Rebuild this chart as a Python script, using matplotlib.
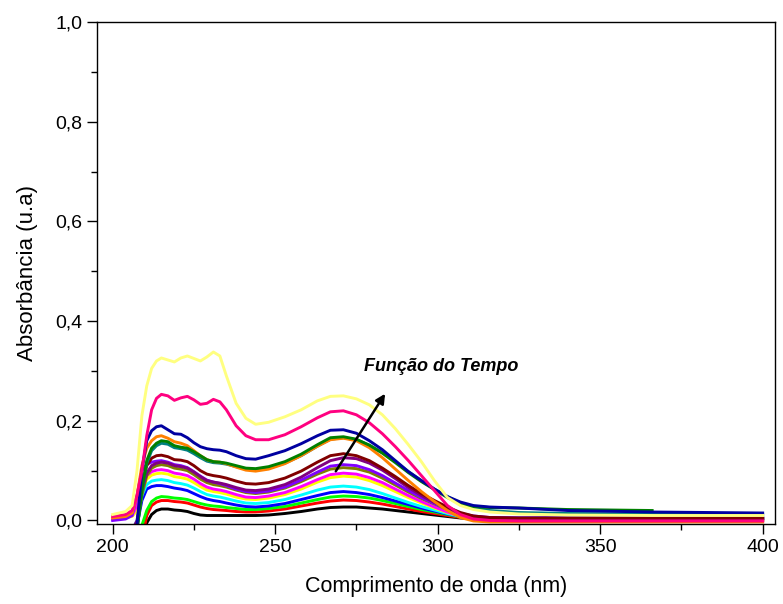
import numpy as np
import matplotlib
matplotlib.use('Agg')
import matplotlib.pyplot as plt
from matplotlib.ticker import MultipleLocator, FuncFormatter

plt.rcParams['font.family'] = ['Liberation Sans', 'DejaVu Sans']

wl = [200, 204, 206, 207.5, 209, 210.5, 212, 213.5, 215, 217, 219, 221, 223, 225, 227,
      229, 231, 233, 235, 238, 241, 244, 248, 253, 258, 263, 267, 271, 275, 279, 283,
      287, 291, 295, 299, 303, 307, 311, 316, 325, 340, 366, 400]

nan = np.nan

# absorbance curves, top (longest time) to bottom
light_yellow = [0.012, 0.018, 0.03, 0.10, 0.21, 0.27, 0.305, 0.32, 0.326, 0.322, 0.318, 0.326, 0.330, 0.325, 0.320,
                0.328, 0.338, 0.330, 0.290, 0.235, 0.205, 0.193, 0.197, 0.208, 0.222, 0.240, 0.249, 0.250, 0.244, 0.232, 0.212,
                0.184, 0.152, 0.118, 0.080, 0.046, 0.030, 0.022, 0.017, 0.013, 0.011, 0.010, 0.010]
pink = [0.008, 0.012, 0.02, 0.05, 0.10, 0.17, 0.222, 0.245, 0.253, 0.250, 0.241, 0.246, 0.249, 0.242, 0.233,
        0.235, 0.243, 0.238, 0.222, 0.190, 0.170, 0.162, 0.162, 0.172, 0.188, 0.206, 0.218, 0.220, 0.212, 0.196, 0.174,
        0.148, 0.120, 0.090, 0.060, 0.030, 0.012, 0.003, 0.0, -0.001, -0.001, -0.001, -0.001]
navy = [-0.04, -0.04, -0.04, -0.01, 0.10, 0.16, 0.18, 0.188, 0.190, 0.182, 0.174, 0.173, 0.166, 0.156, 0.148,
        0.144, 0.142, 0.141, 0.138, 0.130, 0.124, 0.123, 0.130, 0.140, 0.154, 0.170, 0.181, 0.182, 0.175, 0.160, 0.142,
        0.120, 0.098, 0.080, 0.063, 0.048, 0.037, 0.030, 0.027, 0.025, 0.020, 0.017, 0.015]
green = [-0.04, -0.04, -0.04, -0.02, 0.06, 0.12, 0.145, 0.155, 0.160, 0.158, 0.150, 0.147, 0.145, 0.138, 0.130,
         0.122, 0.118, 0.117, 0.115, 0.110, 0.105, 0.104, 0.108, 0.118, 0.133, 0.152, 0.166, 0.168, 0.163, 0.151, 0.135,
         0.116, 0.096, 0.078, 0.062, 0.046, 0.034, 0.028, 0.026, 0.025, 0.022, 0.020, nan]
teal = [-0.04, -0.04, -0.04, -0.02, 0.06, 0.115, 0.14, 0.15, 0.155, 0.153, 0.146, 0.144, 0.141, 0.134, 0.126,
        0.119, 0.116, 0.115, 0.113, 0.108, 0.103, 0.101, 0.105, 0.115, 0.130, 0.149, 0.163, 0.166, 0.162, 0.151, 0.136,
        0.118, 0.098, 0.080, 0.063, 0.048, 0.035, 0.026, 0.020, 0.016, 0.014, 0.013, 0.012]
orange = [0.005, 0.008, 0.015, 0.05, 0.11, 0.145, 0.16, 0.168, 0.170, 0.165, 0.158, 0.155, 0.150, 0.140, 0.130,
          0.122, 0.118, 0.117, 0.114, 0.107, 0.101, 0.099, 0.103, 0.114, 0.130, 0.149, 0.162, 0.165, 0.160, 0.146, 0.126,
          0.103, 0.080, 0.058, 0.038, 0.020, 0.006, -0.001, -0.003, -0.003, -0.003, -0.003, -0.003]
maroon = [-0.03, -0.03, -0.03, -0.01, 0.07, 0.11, 0.125, 0.13, 0.131, 0.128, 0.122, 0.121, 0.118, 0.110, 0.100,
          0.093, 0.090, 0.088, 0.085, 0.079, 0.074, 0.073, 0.076, 0.085, 0.099, 0.117, 0.130, 0.134, 0.130, 0.120, 0.105,
          0.088, 0.070, 0.054, 0.040, 0.027, 0.016, 0.009, 0.006, 0.005, 0.005, 0.005, 0.005]
purple = [-0.02, -0.02, -0.02, 0.0, 0.06, 0.095, 0.11, 0.115, 0.117, 0.115, 0.110, 0.108, 0.105, 0.097, 0.088,
          0.080, 0.077, 0.075, 0.072, 0.066, 0.061, 0.060, 0.063, 0.072, 0.087, 0.106, 0.120, 0.126, 0.124, 0.115, 0.101,
          0.084, 0.066, 0.050, 0.036, 0.024, 0.014, 0.008, 0.005, 0.004, 0.004, 0.004, 0.004]
violet = [0.0, 0.003, 0.01, 0.05, 0.10, 0.113, 0.117, 0.119, 0.120, 0.117, 0.112, 0.110, 0.106, 0.098, 0.089,
          0.081, 0.077, 0.074, 0.070, 0.063, 0.058, 0.056, 0.059, 0.067, 0.081, 0.097, 0.109, 0.112, 0.110, 0.102, 0.090,
          0.075, 0.060, 0.046, 0.034, 0.023, 0.014, 0.009, 0.006, 0.005, 0.005, 0.005, 0.005]
olive = [-0.03, -0.03, -0.03, -0.01, 0.05, 0.09, 0.105, 0.11, 0.112, 0.110, 0.105, 0.103, 0.100, 0.092, 0.083,
         0.076, 0.072, 0.070, 0.067, 0.061, 0.056, 0.054, 0.057, 0.065, 0.078, 0.093, 0.103, 0.106, 0.104, 0.097, 0.085,
         0.071, 0.057, 0.044, 0.033, 0.022, 0.013, 0.007, 0.004, 0.003, 0.003, 0.003, 0.003]
magenta = [0.003, 0.006, 0.01, 0.03, 0.07, 0.09, 0.098, 0.101, 0.102, 0.100, 0.095, 0.093, 0.090, 0.083, 0.074,
           0.067, 0.063, 0.061, 0.058, 0.052, 0.047, 0.046, 0.049, 0.056, 0.068, 0.082, 0.092, 0.095, 0.093, 0.086, 0.076,
           0.063, 0.050, 0.038, 0.027, 0.017, 0.008, 0.002, 0.0, -0.001, -0.001, -0.001, -0.001]
yellow = [0.005, 0.006, 0.008, 0.02, 0.06, 0.083, 0.091, 0.094, 0.095, 0.093, 0.088, 0.086, 0.083, 0.076, 0.068,
          0.061, 0.058, 0.056, 0.053, 0.047, 0.043, 0.042, 0.045, 0.052, 0.063, 0.077, 0.086, 0.089, 0.087, 0.080, 0.070,
          0.058, 0.046, 0.035, 0.025, 0.016, 0.009, 0.005, 0.004, 0.003, 0.003, 0.003, 0.003]
cyan = [-0.02, -0.02, -0.02, 0.0, 0.05, 0.072, 0.079, 0.081, 0.082, 0.080, 0.076, 0.074, 0.071, 0.065, 0.058,
        0.052, 0.049, 0.047, 0.044, 0.039, 0.035, 0.034, 0.036, 0.042, 0.051, 0.061, 0.067, 0.069, 0.067, 0.062, 0.054,
        0.045, 0.036, 0.028, 0.021, 0.014, 0.008, 0.005, 0.004, 0.004, 0.004, 0.004, 0.004]
blue = [-0.03, -0.03, -0.03, -0.01, 0.04, 0.063, 0.068, 0.070, 0.070, 0.068, 0.065, 0.063, 0.060, 0.054, 0.048,
        0.043, 0.040, 0.038, 0.035, 0.031, 0.028, 0.027, 0.029, 0.034, 0.042, 0.050, 0.056, 0.058, 0.056, 0.052, 0.046,
        0.039, 0.032, 0.025, 0.019, 0.013, 0.008, 0.006, 0.005, 0.005, 0.005, 0.005, 0.005]
lime = [-0.04, -0.04, -0.04, -0.04, -0.01, 0.02, 0.038, 0.045, 0.048, 0.047, 0.045, 0.044, 0.042, 0.038, 0.034,
        0.031, 0.029, 0.028, 0.026, 0.024, 0.022, 0.022, 0.024, 0.028, 0.035, 0.042, 0.047, 0.049, 0.048, 0.045, 0.040,
        0.034, 0.028, 0.022, 0.017, 0.012, 0.007, 0.004, 0.002, 0.001, 0.001, 0.001, 0.001]
red = [-0.04, -0.04, -0.04, -0.04, -0.04, 0.01, 0.03, 0.037, 0.040, 0.040, 0.038, 0.037, 0.035, 0.031, 0.027,
       0.024, 0.022, 0.021, 0.020, 0.018, 0.017, 0.017, 0.019, 0.023, 0.029, 0.035, 0.039, 0.041, 0.040, 0.037, 0.033,
       0.028, 0.023, 0.018, 0.014, 0.010, 0.006, 0.003, 0.001, 0.0, 0.0, 0.0, 0.0]
black = [-0.04, -0.04, -0.04, -0.04, -0.04, -0.005, 0.012, 0.020, 0.023, 0.023, 0.021, 0.020, 0.018, 0.014, 0.011,
         0.010, 0.010, 0.010, 0.010, 0.010, 0.010, 0.010, 0.011, 0.014, 0.018, 0.023, 0.026, 0.027, 0.027, 0.025, 0.023,
         0.020, 0.017, 0.014, 0.011, 0.008, 0.005, 0.004, 0.004, 0.004, 0.004, 0.004, 0.004]

curves = [
    (black, '#000000'),
    (red, '#FF0000'),
    (lime, '#00FF00'),
    (blue, '#0000FF'),
    (cyan, '#00FFFF'),
    (yellow, '#FFFF00'),
    (magenta, '#FF00FF'),
    (olive, '#808000'),
    (violet, '#8000FF'),
    (purple, '#800080'),
    (maroon, '#800000'),
    (teal, '#008080'),
    (orange, '#FF8000'),
    (green, '#008000'),
    (navy, '#0000A0'),
    (pink, '#FF0080'),
    (light_yellow, '#FFFF80'),
]

fig = plt.figure(figsize=(7.83, 6.04), dpi=100)
ax = fig.add_axes([0.1235, 0.1325, 0.8663, 0.8311])

for vals, col in curves:
    ax.plot(wl, vals, color=col, lw=2.1)

ax.set_xlim(195.1, 403.8)
ax.set_ylim(-0.007, 1.0)

ax.xaxis.set_major_locator(MultipleLocator(50))
ax.xaxis.set_minor_locator(MultipleLocator(25))
ax.yaxis.set_major_locator(MultipleLocator(0.2))
ax.yaxis.set_minor_locator(MultipleLocator(0.1))
ax.yaxis.set_major_formatter(FuncFormatter(lambda v, p: ('%.1f' % v).replace('.', ',')))
ax.xaxis.set_major_formatter(FuncFormatter(lambda v, p: '%d' % v))

ax.tick_params(which='both', direction='out', top=False, right=False, width=1.0, labelsize=14)
ax.tick_params(which='major', length=7)
ax.tick_params(which='minor', length=4)
for s in ax.spines.values():
    s.set_linewidth(1.0)

ax.set_xlabel('Comprimento de onda (nm)', fontsize=15.5, labelpad=15)
ax.set_ylabel('Absorbância (u.a)', fontsize=16, labelpad=12)

ax.annotate('', xy=(284.3, 0.259), xytext=(268.2, 0.094),
            arrowprops=dict(arrowstyle='-|>', color='black', lw=1.8, mutation_scale=14))
ax.text(277.4, 0.308, 'Função do Tempo', fontsize=13, fontweight='bold', fontstyle='italic',
        ha='left', va='center')

fig.savefig('out.png', dpi=100)
